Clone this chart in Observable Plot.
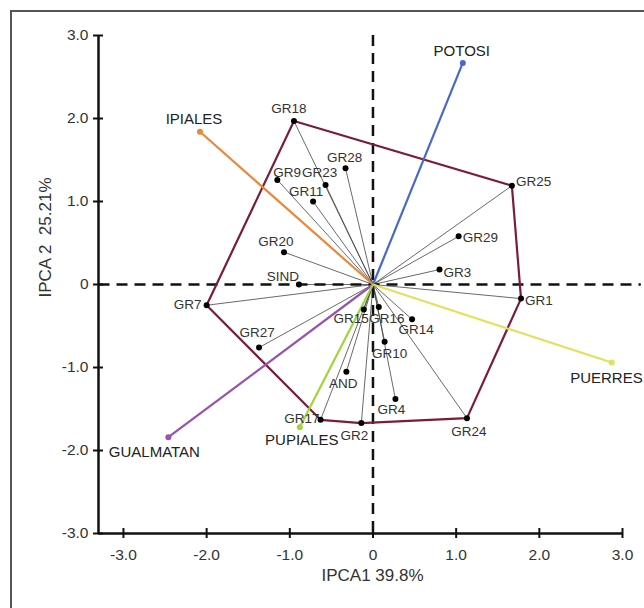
<!DOCTYPE html>
<html>
<head>
<meta charset="utf-8">
<script src="https://cdn.jsdelivr.net/npm/d3@7"></script>
<script src="https://cdn.jsdelivr.net/npm/@observablehq/plot@0.6"></script>
<style>
  html, body { margin: 0; padding: 0; background: #fff; }
  #wrap { position: relative; width: 644px; height: 608px; overflow: hidden; }
  #frame { position: absolute; left: 10px; top: 10px; width: 700px; height: 700px;
           border-left: 2px solid #555; border-top: 2px solid #555; pointer-events: none; }
  #chart { position: absolute; left: 0; top: 0; }
</style>
</head>
<body>
<div id="wrap"><div id="chart"></div><div id="frame"></div></div>
<script>
// ---- data ----
const genotypes = ["GR18","GR25","GR29","GR3","GR1","GR24","GR2","GR17","GR7","GR27","AND","GR4","GR10","GR14","GR15","GR16","SIND","GR20","GR9","GR23","GR11","GR28"];
const genoX = [-0.95, 1.67, 1.03, 0.80, 1.78, 1.13, -0.14, -0.63, -2.00, -1.37, -0.32, 0.27, 0.14, 0.47, -0.11, 0.07, -0.89, -1.07, -1.15, -0.57, -0.72, -0.33];
const genoY = [1.97, 1.19, 0.58, 0.18, -0.17, -1.61, -1.67, -1.63, -0.25, -0.76, -1.05, -1.38, -0.69, -0.42, -0.30, -0.27, 0.00, 0.39, 1.26, 1.20, 1.00, 1.40];

const environments = ["POTOSI","IPIALES","PUERRES","GUALMATAN","PUPIALES"];
const envX = [1.08, -2.08, 2.87, -2.46, -0.88];
const envY = [2.67, 1.84, -0.94, -1.84, -1.72];

const hullOrder = ["GR18","GR25","GR1","GR24","GR2","GR17","GR7","GR18"];

const xTicks = [-3, -2, -1, 0, 1, 2, 3];
const yTicks = [-3, -2, -1, 0, 1, 2, 3];
const xLabel = "IPCA1 39.8%";
const yLabel = "IPCA 2  25.21%";

// ---- styling (kept apart from the data) ----
const xDomain = [-3.3, 3.0];
const yDomain = [-3.0, 3.0];
const dashEnd = 3.22;
const envColors = {POTOSI: "#4a68c8", IPIALES: "#e8883a", PUERRES: "#e4e05a", GUALMATAN: "#9a52ae", PUPIALES: "#a2d43c"};
// label placement: [dx, dy, anchor]
const genoLabelPlace = {
  GR18: [-5, -12, "middle"], GR25: [4, -4, "start"], GR29: [4, 1, "start"], GR3: [4, 3, "start"],
  GR1: [4, 2, "start"], GR24: [2, 14, "middle"], GR2: [-7, 13, "middle"], GR17: [-1, -1, "end"],
  GR7: [-5, -1, "end"], GR27: [-2, -15, "middle"], AND: [-3, 12, "middle"], GR4: [-4, 11, "middle"],
  GR10: [5, 12, "middle"], GR14: [4, 10, "middle"], GR15: [5, 9, "end"], GR16: [8, 12, "middle"],
  SIND: [0, -8, "end"], GR20: [-8, -10, "middle"], GR9: [-4, -7, "start"], GR23: [-6, -12, "middle"],
  GR11: [-7, -10, "middle"], GR28: [-1, -11, "middle"]
};
const envLabelPlace = {
  POTOSI: [-1, -12, "middle"], IPIALES: [-6, -13, "middle"], PUERRES: [31, 16, "end"],
  GUALMATAN: [-14, 15, "middle"], PUPIALES: [2, 13, "middle"]
};

const geno = genotypes.map((name, i) => ({name, x: genoX[i], y: genoY[i]}));
const env = environments.map((name, i) => ({name, x: envX[i], y: envY[i]}));
const byName = Object.fromEntries(geno.map(d => [d.name, d]));
const hull = hullOrder.map(n => byName[n]);

const fmt = d => d === 0 ? "0" : d.toFixed(1);
const font = "'Liberation Sans', Arial, sans-serif";

const marks = [
  // gray spokes from origin to each genotype
  Plot.link(geno, {x1: 0, y1: 0, x2: "x", y2: "y", stroke: "#444", strokeWidth: 0.8}),
  // dashed reference axes
  Plot.link([0], {x1: xDomain[0], x2: dashEnd, y1: 0, y2: 0, stroke: "#111", strokeWidth: 2.5, strokeDasharray: "11,7", clip: false}),
  Plot.ruleX([0], {stroke: "#111", strokeWidth: 2.5, strokeDasharray: "11,7"}),
  // polygon
  Plot.line(hull, {x: "x", y: "y", stroke: "#7a1c3c", strokeWidth: 2.2}),
  // environment vectors
  Plot.link(env, {x1: 0, y1: 0, x2: "x", y2: "y", stroke: d => envColors[d.name], strokeWidth: 2.2}),
  Plot.dot(env, {x: "x", y: "y", r: 3, fill: d => envColors[d.name]}),
  // genotype dots
  Plot.dot(geno, {x: "x", y: "y", r: 3, fill: "#000"}),
  // axis lines
  Plot.ruleX([xDomain[0]], {stroke: "#111", strokeWidth: 2.5}),
  Plot.ruleY([yDomain[0]], {stroke: "#111", strokeWidth: 2.5}),
  // ticks crossing axes
  Plot.axisY(yTicks, {tickSize: 10, dx: 5, text: null, label: null, stroke: "#111", strokeWidth: 2}),
  Plot.axisX(xTicks, {tickSize: 10, dy: -5, text: null, label: null, stroke: "#111", strokeWidth: 2}),
  Plot.axisY(yTicks, {tickSize: 0, tickPadding: 10, tickFormat: fmt, label: null, fontSize: 15.5, fill: "#333"}),
  Plot.axisX(xTicks, {tickSize: 0, tickPadding: 15, tickFormat: fmt, label: null, fontSize: 15.5, fill: "#333"}),
  // axis titles
  Plot.text([xLabel], {frameAnchor: "bottom", dx: 12, dy: 47, fontSize: 17, fill: "#333"}),
  Plot.text([yLabel], {frameAnchor: "left", dx: -53, dy: 13, rotate: -90, fontSize: 17, fill: "#333"})
];

for (const d of geno) {
  const [dx, dy, anchor] = genoLabelPlace[d.name];
  marks.push(Plot.text([d], {x: "x", y: "y", text: "name", dx, dy, textAnchor: anchor, fontSize: 13.5, fill: "#333", clip: false}));
}
for (const d of env) {
  const [dx, dy, anchor] = envLabelPlace[d.name];
  marks.push(Plot.text([d], {x: "x", y: "y", text: "name", dx, dy, textAnchor: anchor, fontSize: 15, fill: "#222", clip: false}));
}

const chart = Plot.plot({
  width: 644,
  height: 608,
  marginLeft: 98,
  marginRight: 22,
  marginTop: 35,
  marginBottom: 75,
  x: {domain: xDomain, axis: null},
  y: {domain: yDomain, axis: null},
  style: {fontFamily: font, background: "transparent", overflow: "visible"},
  marks
});
document.getElementById("chart").appendChild(chart);
</script>
</body>
</html>
